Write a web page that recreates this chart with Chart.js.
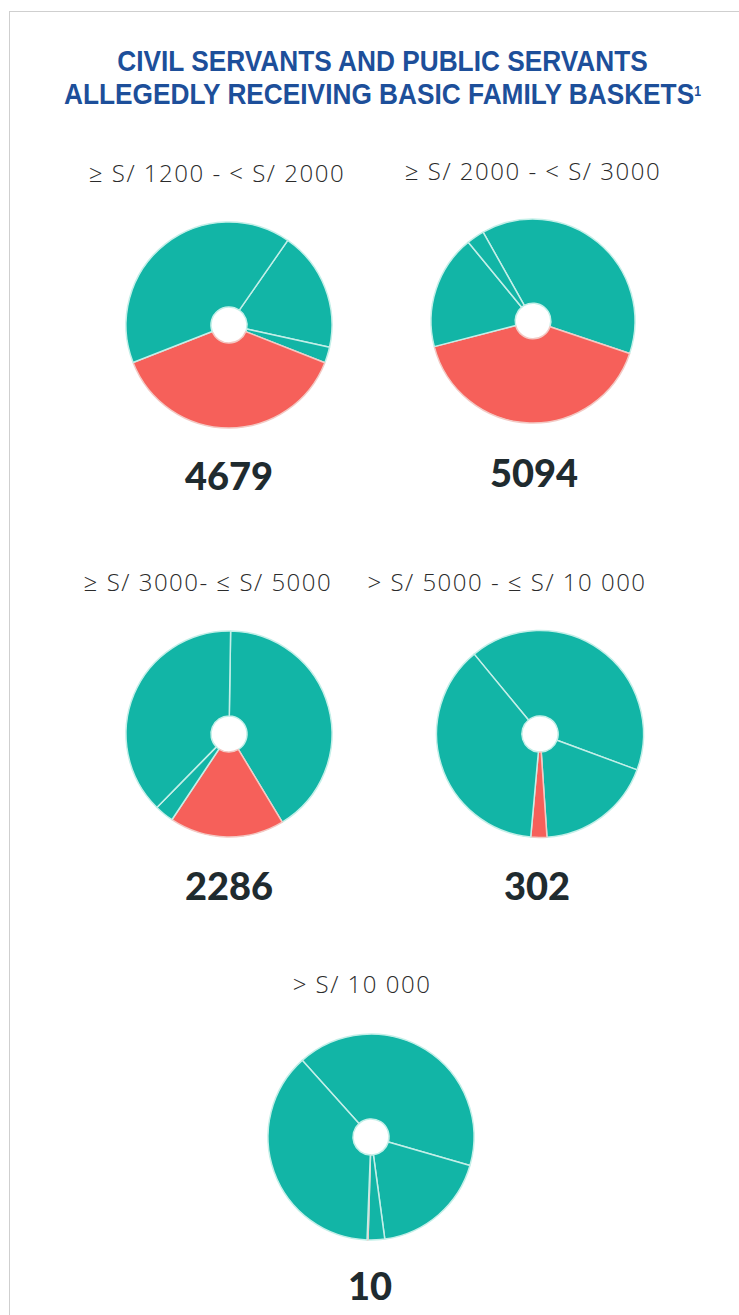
<!DOCTYPE html>
<html><head><meta charset="utf-8">
<script src="https://cdn.jsdelivr.net/npm/chart.js@4.4.1/dist/chart.umd.min.js"></script>
<style>
html,body{margin:0;padding:0;background:#fff;}
body{width:739px;height:1315px;position:relative;overflow:hidden;}
#frame{position:absolute;left:9px;top:11px;width:730px;height:1320px;border-top:1px solid #cfcfcf;border-left:1px solid #cfcfcf;}
.title{position:absolute;left:13px;width:739px;text-align:center;color:#1d4f9a;font-family:"Liberation Sans",sans-serif;font-weight:bold;font-size:30px;line-height:32px;white-space:nowrap;transform:scaleX(0.875);transform-origin:369.5px 0;}
.title sup{font-size:14px;vertical-align:top;position:relative;top:-3px;}
.lab{position:absolute;transform:translate(-50%,-50%);font-family:"Open Sans",Lato,sans-serif;font-weight:300;font-size:24px;letter-spacing:1.5px;color:#2b2b2b;white-space:nowrap;}
.num{position:absolute;transform:translate(-50%,-50%);font-family:Lato,"Noto Sans",sans-serif;font-weight:900;font-size:38px;color:#1f2b2f;white-space:nowrap;}
canvas{position:absolute;}
</style></head>
<body>
<div id="frame"></div>
<div class="title" style="top:45px;">CIVIL SERVANTS AND PUBLIC SERVANTS</div>
<div class="title" style="top:78px;">ALLEGEDLY RECEIVING BASIC FAMILY BASKETS<sup>1</sup></div>
<div id="texts"></div>
<script>
// Pie titles (salary ranges) and totals
const rangeLabels = ["≥ S/ 1200 - < S/ 2000", "≥ S/ 2000 - < S/ 3000", "≥ S/ 3000- ≤ S/ 5000", "> S/ 5000 - ≤ S/ 10 000", "> S/ 10 000"];
const totals = ["4679", "5094", "2286", "302", "10"];

// Slice shares (%) per pie, in drawing order from the start angle
const pie1Values = [18.8, 2.5, 38.1, 40.6];
const pie2Values = [38.3, 40.8, 18.1, 2.8];
const pie3Values = [41.1, 18.0, 3.0, 37.9];
const pie4Values = [41.6, 18.3, 2.5, 37.6];
const pie5Values = [41.1, 18.4, 2.6, 0.15, 37.75];

// Highlighted (red) slice flags per pie
const pie1Red = [0, 0, 1, 0];
const pie2Red = [0, 1, 0, 0];
const pie3Red = [0, 1, 0, 0];
const pie4Red = [0, 0, 1, 0];
const pie5Red = [0, 0, 0, 1, 0];

// Start angles (degrees clockwise from top)
const startAngles = [34.8, 330.7, 0.9, 320.5, 318.1];

const TEAL = "#12b5a6", RED = "#f6605a";
const layout = [
  {cx:228.5, cy:325, r:103, lx:217, ly:172, nx:229, ny:475},
  {cx:533.4, cy:321, r:102, lx:533, ly:170, nx:534, ny:472},
  {cx:228.7, cy:734, r:103, lx:208, ly:581, nx:229, ny:885},
  {cx:539.7, cy:733.7, r:103.5, lx:507, ly:581, nx:537, ny:885},
  {cx:370.8, cy:1136.5, r:103, lx:362, ly:983, nx:370, ny:1285}
];
const values = [pie1Values, pie2Values, pie3Values, pie4Values, pie5Values];
const reds = [pie1Red, pie2Red, pie3Red, pie4Red, pie5Red];

const texts = document.getElementById('texts');
layout.forEach((L, i) => {
  const lab = document.createElement('div'); lab.className = 'lab';
  lab.style.left = L.lx + 'px'; lab.style.top = L.ly + 'px'; lab.textContent = rangeLabels[i];
  texts.appendChild(lab);
  const num = document.createElement('div'); num.className = 'num';
  num.style.left = L.nx + 'px'; num.style.top = L.ny + 'px'; num.textContent = totals[i];
  texts.appendChild(num);

  const size = 230;
  const c = document.createElement('canvas');
  c.width = size; c.height = size;
  c.style.left = (L.cx - size/2) + 'px'; c.style.top = (L.cy - size/2) + 'px';
  c.style.width = size + 'px'; c.style.height = size + 'px';
  document.body.appendChild(c);
  new Chart(c, {
    type: 'doughnut',
    data: {
      labels: values[i].map((_, k) => 'Slice ' + (k + 1)),
      datasets: [{
        data: values[i],
        backgroundColor: reds[i].map(f => f ? RED : TEAL),
        borderColor: reds[i].map(f => f ? '#f3c9c4' : '#c3efe8'),
        borderWidth: 1.5,
        hoverOffset: 0
      }]
    },
    options: {
      responsive: false, animation: false,
      radius: L.r, cutout: 20,
      rotation: startAngles[i],
      layout: {padding: 0},
      plugins: {legend: {display: false}, tooltip: {enabled: false}, title: {display: false}}
    }
  });
});
</script>
</body></html>
